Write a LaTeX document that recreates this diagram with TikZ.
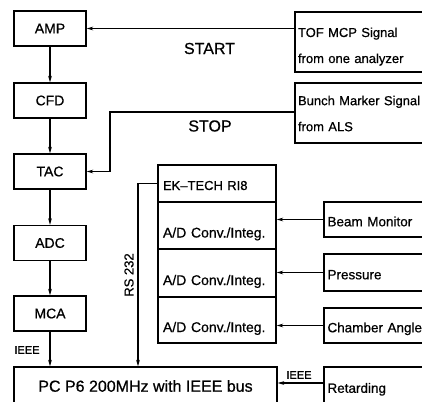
\documentclass[tikz,border=0pt]{standalone}
\usepackage{fontspec}
\setmainfont{Liberation Sans}[FakeBold=0.6]
\usetikzlibrary{arrows.meta}
\begin{document}
\begin{tikzpicture}[x=1pt,y=-1pt,
  every node/.style={inner sep=0pt},
  lbox/.style={draw,line width=1.3pt,minimum width=72pt,minimum height=35pt,font=\fontsize{14}{16}\selectfont},
  sbox/.style={draw,line width=1.3pt,minimum width=145pt,minimum height=60pt,inner xsep=3pt,text width=139pt,align=left,font=\fontsize{13}{26}\selectfont},
  ibox/.style={draw,line width=1.3pt,minimum width=116pt,inner xsep=3.5pt,text width=109pt,align=left,text height=16.6pt,text depth=3pt,font=\fontsize{13.5}{16}\selectfont},
  cell/.style={draw,line width=1.3pt,minimum width=118pt,inner xsep=5pt,text width=108pt,align=left,font=\fontsize{14}{16}\selectfont,text height=27pt,text depth=3pt},
  arr/.style={line width=1.1pt,-{Stealth[length=6.5pt,width=3.6pt]}},
  bigl/.style={font=\fontsize{16}{18}\selectfont},
  smalll/.style={font=\fontsize{11}{12}\selectfont}]
\useasboundingbox (0,0) rectangle (422,401);
\clip (0,0) rectangle (422,401);
\fill[white] (0,0) rectangle (422,401);
% left chain
\node[lbox] (amp) at (50,28.5) {AMP};
\node[lbox] (cfd) at (50,100.5) {CFD};
\node[lbox] (tac) at (50,171.5) {TAC};
\node[lbox] (adc) at (50,243) {ADC};
\node[lbox] (mca) at (50,313.5) {MCA};
\node[draw,line width=1.3pt,minimum width=263pt,minimum height=38pt,bigl] (pc) at (145.5,386) {PC P6 200MHz with IEEE bus};
% signal sources
\node[sbox] (tof) at (367.5,42) {\rule{0pt}{18.7pt}TOF MCP Signal\\from one analyzer};
\node[sbox] (bunch) at (367.5,113) {\rule{0pt}{10.5pt}Bunch Marker Signal\\from ALS};
\node[ibox,minimum height=35pt] (beam) at (382,219.5) {Beam Monitor};
\node[ibox,minimum height=37pt] (press) at (382,272.5) {Pressure};
\node[ibox,minimum height=35pt] (chamb) at (382,325.5) {Chamber Angle};
\node[ibox,minimum height=38pt] (ret) at (382,386) {Retarding};
% EK-TECH unit
\node[cell,minimum height=37pt,text height=16pt,text depth=3pt,font=\fontsize{13}{16}\selectfont] (ek) at (217,183.5) {EK--TECH RI8};
\node[cell,minimum height=47pt] (ad1) at (217,225.5) {A/D Conv./Integ.};
\node[cell,minimum height=48pt] (ad2) at (217,273) {A/D Conv./Integ.};
\node[cell,minimum height=46pt] (ad3) at (217,320) {A/D Conv./Integ.};
% connectors
\draw[arr] (amp.south) -- (cfd.north);
\draw[arr] (cfd.south) -- (tac.north);
\draw[arr] (tac.south) -- (adc.north);
\draw[arr] (adc.south) -- (mca.north);
\draw[arr] (mca.south) -- (mca.south |- pc.north);
\draw[arr] (tof.west |- amp.east) -- (amp.east);
\coordinate (sx) at (110,112);
\draw[arr] (bunch.west |- sx) -- (sx) |- (tac.east);
\coordinate (rsx) at (138,183);
\draw[arr] (ek.west) -| (rsx |- pc.north);
\draw[arr] (beam.west) -- (beam.west -| ad1.east);
\draw[arr] (press.west) -- (press.west -| ad2.east);
\draw[arr] (chamb.west) -- (chamb.west -| ad3.east);
\draw[arr] ([yshift=3pt]ret.west) -- ([yshift=3pt]ret.west -| pc.east);
% labels
\node[bigl] (start) at (209.5,48.5) {START};
\node[bigl] (stop) at (210,126) {STOP};
\node[rotate=90,font=\fontsize{13}{15}\selectfont] (rs) at (129,275) {RS 232};
\node[smalll] (ieee1) at (27,350) {IEEE};
\node[smalll] (ieee2) at (299,375) {IEEE};
\end{tikzpicture}
\end{document}
